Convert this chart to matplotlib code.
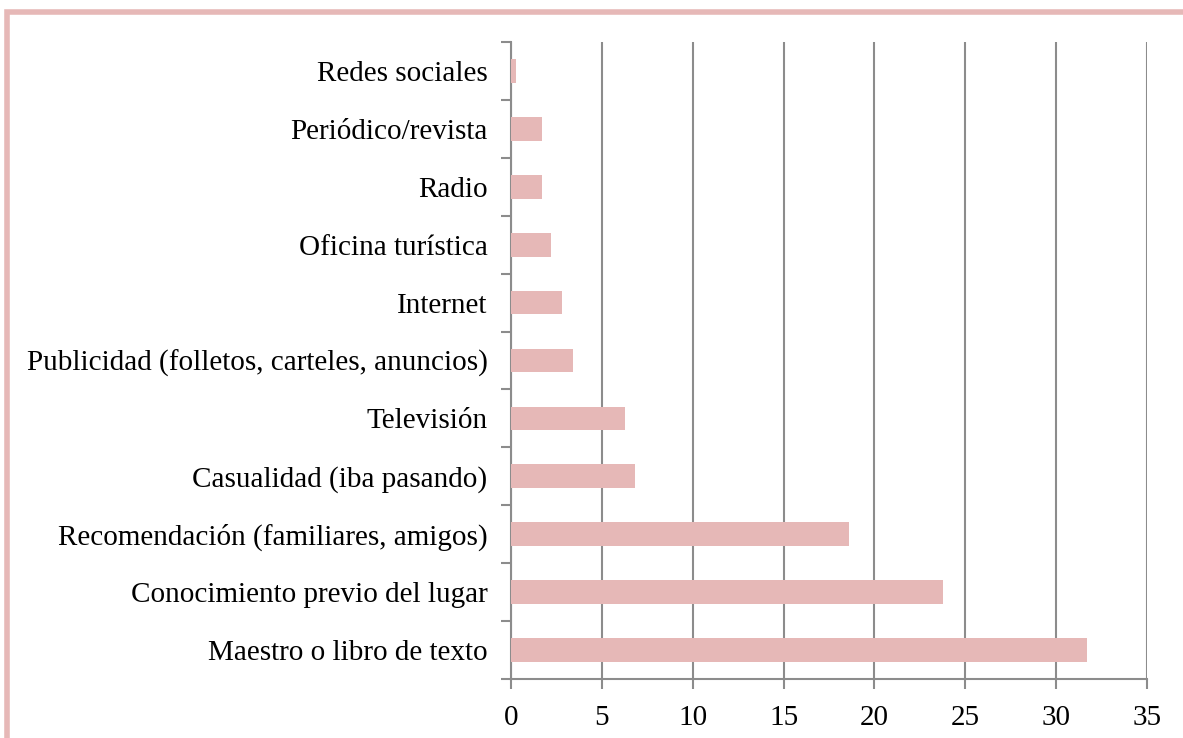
import numpy as np
import matplotlib.pyplot as plt
from matplotlib.patches import Rectangle
from matplotlib.ticker import MultipleLocator

plt.rcParams["font.family"] = ["Liberation Serif", "DejaVu Serif"]

# categories listed bottom to top
categories = [
    "Maestro o libro de texto",
    "Conocimiento previo del lugar",
    "Recomendación (familiares, amigos)",
    "Casualidad (iba pasando)",
    "Televisión",
    "Publicidad (folletos, carteles, anuncios)",
    "Internet",
    "Oficina turística",
    "Radio",
    "Periódico/revista",
    "Redes sociales",
]
values = [31.7, 23.8, 18.6, 6.8, 6.3, 3.4, 2.8, 2.2, 1.7, 1.7, 0.3]
x_ticks = [0, 5, 10, 15, 20, 25, 30, 35]

bar_color = "#E6B8B7"
axis_color = "#8C8C8C"

fig = plt.figure(figsize=(11.83, 7.38), dpi=100)

# pink frame, only top and left edges visible in the crop
fig.patches.append(Rectangle((7 / 1183, -0.1), 1.2, 1 - 12.5 / 738 + 0.1,
                             transform=fig.transFigure, fill=False,
                             edgecolor=bar_color, linewidth=4, zorder=0))

ax = fig.add_axes([511 / 1183, 1 - 679 / 738, 636 / 1183, 637 / 738])

y = np.arange(len(categories))
ax.barh(y, values, height=0.41, color=bar_color, zorder=3)

ax.set_xlim(0, 35)
ax.set_ylim(-0.5, len(categories) - 0.5)
ax.set_xticks(x_ticks)
ax.set_xticklabels([str(t) for t in x_ticks])
ax.set_yticks(y)
ax.set_yticklabels(categories)
ax.yaxis.set_minor_locator(MultipleLocator(1, offset=0.5))

ax.grid(axis="x", color=axis_color, linewidth=1.5, zorder=1)
for side in ["top", "right"]:
    ax.spines[side].set_visible(False)
for side in ["left", "bottom"]:
    ax.spines[side].set_color(axis_color)
    ax.spines[side].set_linewidth(1.5)

ax.tick_params(axis="y", which="major", length=0, pad=17, labelsize=21)
ax.tick_params(axis="y", which="minor", length=7, width=1.5, color=axis_color)
ax.tick_params(axis="x", length=7, width=1.5, color=axis_color, pad=12,
               labelsize=21)

fig.savefig("out.png", dpi=100)
